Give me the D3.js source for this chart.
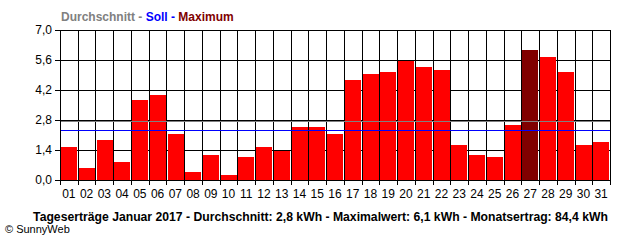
<!DOCTYPE html>
<html lang="de">
<head>
<meta charset="UTF-8">
<title>Tageserträge Januar 2017</title>
<script src="https://d3js.org/d3.v7.min.js"></script>
<style>
  body { margin: 0; background: #fff; }
  svg text { font-family: "Liberation Sans", Arial, sans-serif; }
</style>
</head>
<body>
<div id="chart"></div>
<script>
// Daily yields in kWh (January 2017)
const days = d3.range(1, 32).map(d => String(d).padStart(2, "0"));
const yields = [1.55, 0.57, 1.87, 0.84, 3.73, 3.97, 2.15, 0.37, 1.18, 0.25,
                1.09, 1.55, 1.37, 2.47, 2.47, 2.15, 4.67, 4.95, 5.04, 5.57,
                5.27, 5.13, 1.63, 1.18, 1.09, 2.57, 6.07, 5.74, 5.04, 1.63, 1.77];
const yTicks = [0, 1.4, 2.8, 4.2, 5.6, 7.0];
const average = 2.72;
const target = 2.32;
const footer = "Tageserträge Januar 2017 - Durchschnitt: 2,8 kWh - Maximalwert: 6,1 kWh - Monatsertrag: 84,4 kWh";

const width = 640, height = 240;
const margin = {top: 30, right: 30, bottom: 60, left: 60};

const svg = d3.select("#chart").append("svg")
    .attr("width", width)
    .attr("height", height);

const x = d3.scaleBand()
    .domain(days)
    .range([margin.left, width - margin.right])
    .paddingInner(0.12)
    .paddingOuter(0.06);

const y = d3.scaleLinear()
    .domain([0, 7])
    .range([height - margin.bottom, margin.top]);

const fmt = d => d.toFixed(1).replace(".", ",");

// grid: horizontal
svg.append("g")
  .selectAll("line")
  .data(yTicks)
  .join("line")
    .attr("x1", margin.left).attr("x2", width - margin.right)
    .attr("y1", d => Math.round(y(d)) + 0.5).attr("y2", d => Math.round(y(d)) + 0.5)
    .attr("stroke", "#000");

// grid: vertical lines at band boundaries
const bounds = d3.range(0, days.length + 1).map(i => margin.left + i * (width - margin.left - margin.right) / days.length);
svg.append("g")
  .selectAll("line")
  .data(bounds)
  .join("line")
    .attr("x1", d => Math.round(d) + 0.5).attr("x2", d => Math.round(d) + 0.5)
    .attr("y1", margin.top).attr("y2", height - margin.bottom + 5)
    .attr("stroke", "#000");

// y tick marks
svg.append("g")
  .selectAll("line")
  .data(yTicks)
  .join("line")
    .attr("x1", margin.left - 5).attr("x2", margin.left)
    .attr("y1", d => Math.round(y(d)) + 0.5).attr("y2", d => Math.round(y(d)) + 0.5)
    .attr("stroke", "#000");

// bars
const maxVal = d3.max(yields);
svg.append("g")
  .selectAll("rect")
  .data(yields)
  .join("rect")
    .attr("x", (d, i) => Math.round(x(days[i])))
    .attr("width", Math.round(x.bandwidth()))
    .attr("y", d => Math.round(y(d)))
    .attr("height", d => y(0) - Math.round(y(d)))
    .attr("fill", d => d === maxVal ? "#800000" : "#ff0000");

// average line (gray)
svg.append("line")
    .attr("x1", margin.left).attr("x2", width - margin.right)
    .attr("y1", Math.round(y(average)) - 0.5).attr("y2", Math.round(y(average)) - 0.5)
    .attr("stroke", "#808080");

// target line (blue)
svg.append("line")
    .attr("x1", margin.left).attr("x2", width - margin.right)
    .attr("y1", Math.round(y(target)) + 0.5).attr("y2", Math.round(y(target)) + 0.5)
    .attr("stroke", "#0000ff");

// axis lines
svg.append("line")
    .attr("x1", margin.left + 0.5).attr("x2", margin.left + 0.5)
    .attr("y1", margin.top).attr("y2", height - margin.bottom + 5)
    .attr("stroke", "#000");
svg.append("line")
    .attr("x1", margin.left).attr("x2", width - margin.right + 1)
    .attr("y1", y(0) + 0.5).attr("y2", y(0) + 0.5)
    .attr("stroke", "#000");

// y labels
svg.append("g")
  .selectAll("text")
  .data(yTicks)
  .join("text")
    .attr("x", margin.left - 8)
    .attr("y", d => y(d) + 4)
    .attr("text-anchor", "end")
    .attr("font-size", 12)
    .text(fmt);

// x labels
svg.append("g")
  .selectAll("text")
  .data(days)
  .join("text")
    .attr("x", d => x(d) + x.bandwidth() / 2)
    .attr("y", 198)
    .attr("text-anchor", "middle")
    .attr("font-size", 12)
    .text(d => d);

// legend title
const legend = svg.append("text")
    .attr("x", 61).attr("y", 21)
    .attr("font-size", 12)
    .attr("font-weight", "bold");
legend.append("tspan").attr("fill", "#808080").text("Durchschnitt - ");
legend.append("tspan").attr("fill", "#0000ff").text("Soll - ");
legend.append("tspan").attr("fill", "#800000").text("Maximum");

// footer
svg.append("text")
    .attr("x", 320.5).attr("y", 221)
    .attr("text-anchor", "middle")
    .attr("font-size", 12.2)
    .attr("font-weight", "bold")
    .text(footer);

svg.append("text")
    .attr("x", 5).attr("y", 233)
    .attr("font-size", 11)
    .text("© SunnyWeb");
</script>
</body>
</html>
